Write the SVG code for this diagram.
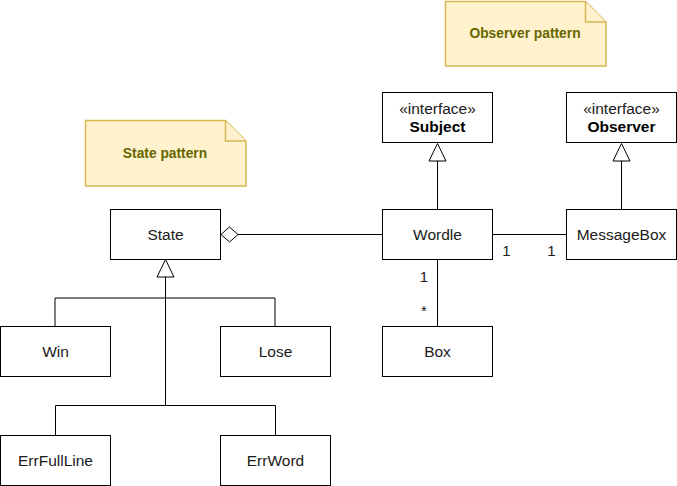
<svg xmlns="http://www.w3.org/2000/svg" width="677" height="486" viewBox="0 0 677 486">
<defs>
<style>
.box{fill:#ffffff;stroke:#000000;stroke-width:1}
.note{fill:#fff2cc;stroke:#d6b656;stroke-width:1.5}
.t{font-family:"Liberation Sans",Arial,sans-serif;font-size:15.5px;fill:#1a1a1a;text-anchor:middle}
.b{font-weight:bold;fill:#000000}
.m{font-size:15px}
.nt{font-family:"Liberation Sans",Arial,sans-serif;font-size:13.8px;font-weight:bold;fill:#666600;text-anchor:middle}
.ln{fill:none;stroke:#000000;stroke-width:1}
.tri{fill:#ffffff;stroke:#000000;stroke-width:1}
</style>
</defs>
<rect width="677" height="486" fill="#ffffff"/>
<g id="connectors">
<path class="ln" d="M437.5,161 V209.5"/>
<polygon class="tri" points="437.5,143.5 446,161 429,161"/>
<path class="ln" d="M621.5,161 V209.5"/>
<polygon class="tri" points="621.5,143.5 630,161 613,161"/>
<path class="ln" d="M492,234.5 H566"/>
<path class="ln" d="M238,234.5 H382"/>
<polygon class="tri" points="221,234.5 229.5,227 238,234.5 229.5,242"/>
<path class="ln" d="M437.5,259.5 V326"/>
<path class="ln" d="M165.5,277 V405.5"/>
<polygon class="tri" points="165.5,259.5 174,277 157,277"/>
<path class="ln" d="M55,326 V298 H275 V326"/>
<path class="ln" d="M55.5,435 V405.5 H275.5 V435"/>
<text class="t m" x="506.5" y="256">1</text>
<text class="t m" x="551.5" y="256">1</text>
<text class="t m" x="424" y="282">1</text>
<text class="t m" x="424" y="316">*</text>
</g>
<g id="note-observer">
<path class="note" d="M445.5,1.5 H585.5 L606,22 V66 H445.5 Z"/>
<path class="note" d="M585.5,1.5 V22 H606"/>
<text class="nt" x="525" y="38">Observer pattern</text>
</g>
<g id="note-state">
<path class="note" d="M85.5,120.5 H225.5 L246,141 V186 H85.5 Z"/>
<path class="note" d="M225.5,120.5 V141 H246"/>
<text class="nt" x="165" y="158">State pattern</text>
</g>
<g id="subject">
<rect class="box" x="382.5" y="92.5" width="110" height="50"/>
<text class="t" x="437.5" y="114">«interface»</text>
<text class="t b" x="437.5" y="132">Subject</text>
</g>
<g id="observer">
<rect class="box" x="566.5" y="92.5" width="110" height="50"/>
<text class="t" x="621.5" y="114">«interface»</text>
<text class="t b" x="621.5" y="132">Observer</text>
</g>
<g id="wordle">
<rect class="box" x="382.5" y="209.5" width="110" height="50"/>
<text class="t" x="437.5" y="240">Wordle</text>
</g>
<g id="messagebox">
<rect class="box" x="566.5" y="209.5" width="110" height="50"/>
<text class="t" x="621.5" y="240">MessageBox</text>
</g>
<g id="state">
<rect class="box" x="110.5" y="209.5" width="110" height="50"/>
<text class="t" x="165.5" y="240">State</text>
</g>
<g id="box">
<rect class="box" x="382.5" y="326.5" width="110" height="50"/>
<text class="t" x="437.5" y="357">Box</text>
</g>
<g id="win">
<rect class="box" x="0.5" y="326.5" width="110" height="50"/>
<text class="t" x="55.5" y="357">Win</text>
</g>
<g id="lose">
<rect class="box" x="220.5" y="326.5" width="110" height="50"/>
<text class="t" x="275.5" y="357">Lose</text>
</g>
<g id="errfullline">
<rect class="box" x="0.5" y="435.5" width="110" height="50"/>
<text class="t" x="55.5" y="466">ErrFullLine</text>
</g>
<g id="errword">
<rect class="box" x="220.5" y="435.5" width="110" height="50"/>
<text class="t" x="275.5" y="466">ErrWord</text>
</g>
</svg>
